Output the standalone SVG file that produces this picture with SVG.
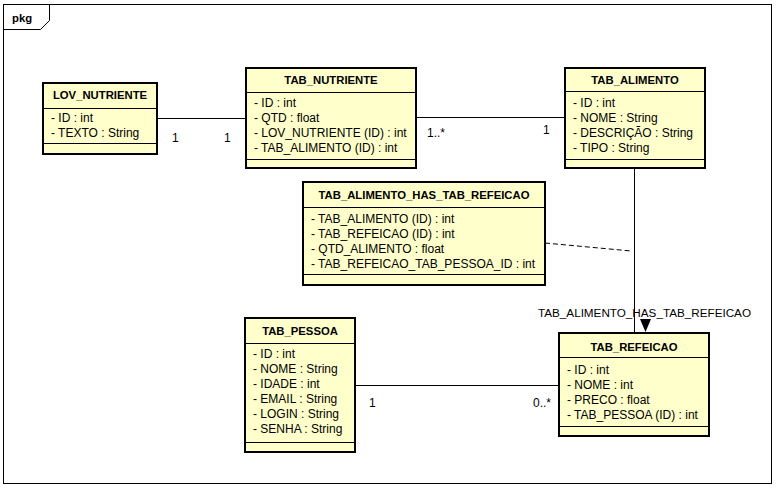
<svg xmlns="http://www.w3.org/2000/svg" width="776" height="488" viewBox="0 0 776 488">
<style>
text{font-family:"Liberation Sans",Arial,sans-serif;fill:#000}
.t{font-size:11.3px;font-weight:bold;text-anchor:middle}
.a{font-size:12px}
.m{font-size:12px}
.box{fill:#ffffcc;stroke:#000;stroke-width:2}
.sep{stroke:#000;stroke-width:1}
.ln{stroke:#000;stroke-width:1;fill:none}
</style>
<rect width="776" height="488" fill="#fff"/>
<g id="frame">
<rect x="3.5" y="4.5" width="768" height="479" fill="none" stroke="#000" stroke-width="1"/>
<path d="M3.5 29.5 H40.5 L49.5 20.5 V4.5" fill="none" stroke="#000" stroke-width="1"/>
<text x="12" y="22" style="font-size:11.3px;font-weight:bold">pkg</text>
</g>
<g id="connectors">
<line class="ln" x1="157" y1="118.5" x2="246" y2="118.5"/>
<line class="ln" x1="416" y1="117.5" x2="565" y2="117.5"/>
<line class="ln" x1="634.5" y1="168" x2="634.5" y2="333"/>
<line class="ln" x1="355" y1="385.5" x2="559" y2="385.5"/>
<line class="ln" x1="545" y1="243" x2="631" y2="251" stroke-dasharray="5,3"/>
<polygon points="640,319 651,319 645.5,332" fill="#000"/>
<text class="m" x="172" y="142">1</text>
<text class="m" x="224" y="142">1</text>
<text class="m" x="427" y="137">1..*</text>
<text class="m" x="543" y="134">1</text>
<text class="m" x="369" y="407">1</text>
<text class="m" x="533" y="407">0..*</text>
<text x="644.5" y="317" style="font-size:11.7px;text-anchor:middle">TAB_ALIMENTO_HAS_TAB_REFEICAO</text>
</g>
<g id="LOV_NUTRIENTE">
<rect class="box" x="43" y="83" width="114" height="71"/>
<line class="sep" x1="43" y1="108.5" x2="157" y2="108.5"/>
<line class="sep" x1="43" y1="143.5" x2="157" y2="143.5"/>
<text class="t" x="100" y="99">LOV_NUTRIENTE</text>
<text class="a" x="51" y="122">- ID : int</text>
<text class="a" x="51" y="137">- TEXTO : String</text>
</g>
<g id="TAB_NUTRIENTE">
<rect class="box" x="246" y="68" width="170" height="100"/>
<line class="sep" x1="246" y1="92.5" x2="416" y2="92.5"/>
<line class="sep" x1="246" y1="159.5" x2="416" y2="159.5"/>
<text class="t" x="331" y="84">TAB_NUTRIENTE</text>
<text class="a" x="254" y="107">- ID : int</text>
<text class="a" x="254" y="122">- QTD : float</text>
<text class="a" x="254" y="137">- LOV_NUTRIENTE (ID) : int</text>
<text class="a" x="254" y="152">- TAB_ALIMENTO (ID) : int</text>
</g>
<g id="TAB_ALIMENTO">
<rect class="box" x="565" y="68" width="140" height="100"/>
<line class="sep" x1="565" y1="91.5" x2="705" y2="91.5"/>
<line class="sep" x1="565" y1="159.5" x2="705" y2="159.5"/>
<text class="t" x="635" y="84">TAB_ALIMENTO</text>
<text class="a" x="573" y="107">- ID : int</text>
<text class="a" x="573" y="122">- NOME : String</text>
<text class="a" x="573" y="137">- DESCRIÇÃO : String</text>
<text class="a" x="573" y="152">- TIPO : String</text>
</g>
<g id="TAB_ALIMENTO_HAS_TAB_REFEICAO">
<rect class="box" x="303" y="182" width="242" height="103"/>
<line class="sep" x1="303" y1="207.5" x2="545" y2="207.5"/>
<line class="sep" x1="303" y1="274.5" x2="545" y2="274.5"/>
<text class="t" x="424" y="199">TAB_ALIMENTO_HAS_TAB_REFEICAO</text>
<text class="a" x="311" y="223">- TAB_ALIMENTO (ID) : int</text>
<text class="a" x="311" y="238">- TAB_REFEICAO (ID) : int</text>
<text class="a" x="311" y="253">- QTD_ALIMENTO : float</text>
<text class="a" x="311" y="268">- TAB_REFEICAO_TAB_PESSOA_ID : int</text>
</g>
<g id="TAB_PESSOA">
<rect class="box" x="245" y="318" width="110" height="134"/>
<line class="sep" x1="245" y1="343.5" x2="355" y2="343.5"/>
<line class="sep" x1="245" y1="442.5" x2="355" y2="442.5"/>
<text class="t" x="300" y="335">TAB_PESSOA</text>
<text class="a" x="253" y="358">- ID : int</text>
<text class="a" x="253" y="373">- NOME : String</text>
<text class="a" x="253" y="388">- IDADE : int</text>
<text class="a" x="253" y="403">- EMAIL : String</text>
<text class="a" x="253" y="418">- LOGIN : String</text>
<text class="a" x="253" y="433">- SENHA : String</text>
</g>
<g id="TAB_REFEICAO">
<rect class="box" x="559" y="333" width="150" height="103"/>
<line class="sep" x1="559" y1="357.5" x2="709" y2="357.5"/>
<line class="sep" x1="559" y1="426.5" x2="709" y2="426.5"/>
<text class="t" x="634" y="351">TAB_REFEICAO</text>
<text class="a" x="567" y="374">- ID : int</text>
<text class="a" x="567" y="389">- NOME : int</text>
<text class="a" x="567" y="404">- PRECO : float</text>
<text class="a" x="567" y="419">- TAB_PESSOA (ID) : int</text>
</g>
</svg>
